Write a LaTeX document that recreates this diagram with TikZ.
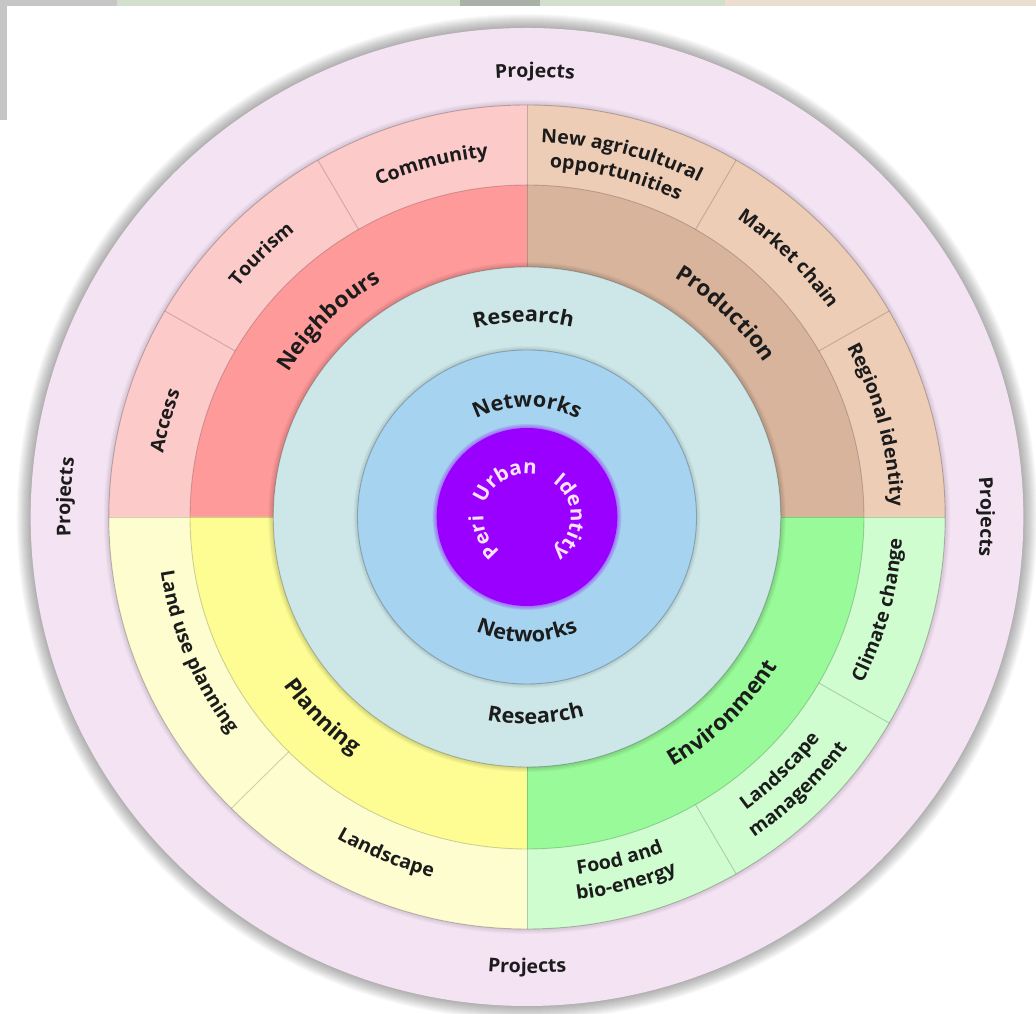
\documentclass[tikz,border=0pt]{standalone}
\usepackage{fontspec}
\setmainfont{Open Sans}
\newfontfamily\lbl{Open Sans}[FakeStretch=1.03]
\usetikzlibrary{decorations.text}
\definecolor{txt}{HTML}{1C1C1C}
\definecolor{ctxt}{HTML}{FBE3FB}
\definecolor{projring}{HTML}{F4E3F3}
\definecolor{neighb}{HTML}{FF9A9A}
\definecolor{neighbL}{HTML}{FDCACA}
\definecolor{produc}{HTML}{D8B49C}
\definecolor{producL}{HTML}{EECDB6}
\definecolor{plann}{HTML}{FDFD94}
\definecolor{plannL}{HTML}{FEFDD0}
\definecolor{envir}{HTML}{98FA98}
\definecolor{envirL}{HTML}{CFFDCF}
\definecolor{resear}{HTML}{CDE7E9}
\definecolor{netw}{HTML}{A6D3EF}
\definecolor{purp}{HTML}{9A00FF}
\definecolor{stripG}{HTML}{D3DFCD}
\definecolor{stripB}{HTML}{ECDDD1}
\definecolor{stripD}{HTML}{A9B0A8}
\definecolor{stripY}{HTML}{C6C6C6}
\tikzset{
  divline/.style={draw=black,draw opacity=0.18,line width=0.9pt},
  rimline/.style={draw=black,draw opacity=0.22,line width=0.9pt}
}
% angle, radius, half span, size, text ; optional colour
\newcommand\cwlabel[6][txt]{%
  \path[decorate,decoration={text along path,text align=center,
    text={|\lbl\bfseries\fontsize{#5}{#5}\selectfont\color{#1}|#6}}]
    ({#2+#4}:#3) arc[start angle={#2+#4},end angle={#2-#4},radius=#3];}
\newcommand\ccwlabel[6][txt]{%
  \path[decorate,decoration={text along path,text align=center,
    text={|\lbl\bfseries\fontsize{#5}{#5}\selectfont\color{#1}|#6}}]
    ({#2-#4}:#3) arc[start angle={#2-#4},end angle={#2+#4},radius=#3];}
\begin{document}
\begin{tikzpicture}[x=1pt,y=1pt]
\useasboundingbox (0,0) rectangle (1036,1014);
\fill[white] (0,0) rectangle (1036,1014);
% screenshot remnants at the top
\fill[stripG] (117,1008) rectangle (725,1014);
\fill[stripB] (725,1008) rectangle (1036,1014);
\fill[stripD] (460,1008) rectangle (540,1014);
\fill[stripY] (0,1008) rectangle (117,1014);
\fill[stripY] (0,894) rectangle (7,1014);
\begin{scope}[shift={(527,497)},xscale=1.015]
  % outer shadow
  \foreach \i in {1,...,14} \fill[black,opacity=0.022] (0,0) circle ({489+\i});
  \fill[projring] (0,0) circle (489);
  % shadow of segment disk
  \foreach \i in {1,...,5} \fill[black,opacity=0.025] (0,0) circle ({412+\i});
  % outer segments
  \fill[neighbL] (0,0) -- (90:412) arc[start angle=90,end angle=180,radius=412] -- cycle;
  \fill[producL] (0,0) -- (0:412) arc[start angle=0,end angle=90,radius=412] -- cycle;
  \fill[plannL] (0,0) -- (180:412) arc[start angle=180,end angle=270,radius=412] -- cycle;
  \fill[envirL] (0,0) -- (270:412) arc[start angle=270,end angle=360,radius=412] -- cycle;
  \draw[rimline] (0,0) circle (412);
  % coloured ring
  \fill[neighb] (0,0) -- (90:332) arc[start angle=90,end angle=180,radius=332] -- cycle;
  \fill[produc] (0,0) -- (0:332) arc[start angle=0,end angle=90,radius=332] -- cycle;
  \fill[plann] (0,0) -- (180:332) arc[start angle=180,end angle=270,radius=332] -- cycle;
  \fill[envir] (0,0) -- (270:332) arc[start angle=270,end angle=360,radius=332] -- cycle;
  \draw[divline] (0,0) circle (332);
  \foreach \a in {30,60,120,150,225,300,330} \draw[divline] (\a:332) -- (\a:412);
  \foreach \a in {0,90,180,270} \draw[divline] (\a:250) -- (\a:412);
  % research
  \foreach \i in {1,...,5} \fill[black,opacity=0.03] (0,0) circle ({250+\i});
  \fill[resear] (0,0) circle (250);
  \draw[rimline] (0,0) circle (250);
  % networks
  \foreach \i in {1,...,4} \fill[black,opacity=0.03] (0,0) circle ({167+\i});
  \fill[netw] (0,0) circle (167);
  \draw[rimline] (0,0) circle (167);
  % core
  \foreach \i in {1,...,4} \fill[purp,opacity=0.12] (0,0) circle ({89+\i});
  \fill[purp] (0,0) circle (89);
  % labels: Projects
  \cwlabel{89}{440}{20}{19}{Projects}
  \cwlabel{177.5}{450}{20}{19}{Projects}
  \cwlabel{0}{447}{20}{19}{Projects}
  \ccwlabel{270}{456}{20}{19}{Projects}
  % outer segments
  \cwlabel{105}{362}{30}{19}{Community}
  \cwlabel{135}{366}{30}{19}{Tourism}
  \cwlabel{165}{364}{30}{19}{Access}
  \cwlabel{75.5}{375}{30}{19}{New agricultural}
  \cwlabel{75.5}{350}{30}{19}{opportunities}
  \cwlabel{45}{363}{30}{19}{Market chain}
  \cwlabel{15}{358}{30}{19}{Regional identity}
  \ccwlabel{-15}{370}{30}{19}{Climate change}
  \ccwlabel{-45.5}{364}{30}{19}{Landscape}
  \ccwlabel{-45.5}{391}{30}{19}{management}
  \ccwlabel{-75}{361}{30}{19}{Food and}
  \ccwlabel{-75}{386}{30}{19}{bio-energy}
  \ccwlabel{202.5}{365}{30}{19}{Land use planning}
  \ccwlabel{247.5}{372}{30}{19}{Landscape}
  % coloured ring
  \cwlabel{135}{276}{35}{22}{Neighbours}
  \cwlabel{46}{280}{35}{22}{Production}
  \ccwlabel{224.5}{293}{35}{22}{Planning}
  \ccwlabel{-45.5}{288}{35}{22}{Environment}
  % research / networks
  \cwlabel{91}{195}{40}{21}{Research}
  \ccwlabel{-87.5}{207}{40}{21}{Research}
  \cwlabel{90}{110}{50}{21}{Networks}
  \ccwlabel{270}{125}{50}{21}{Networks}
  % core
  \cwlabel[ctxt]{205}{43}{70}{20}{Peri}
  \cwlabel[ctxt]{120}{43}{70}{20}{Urban}
  \cwlabel[ctxt]{0}{43}{70}{20}{Identity}
\end{scope}
\end{tikzpicture}
\end{document}
